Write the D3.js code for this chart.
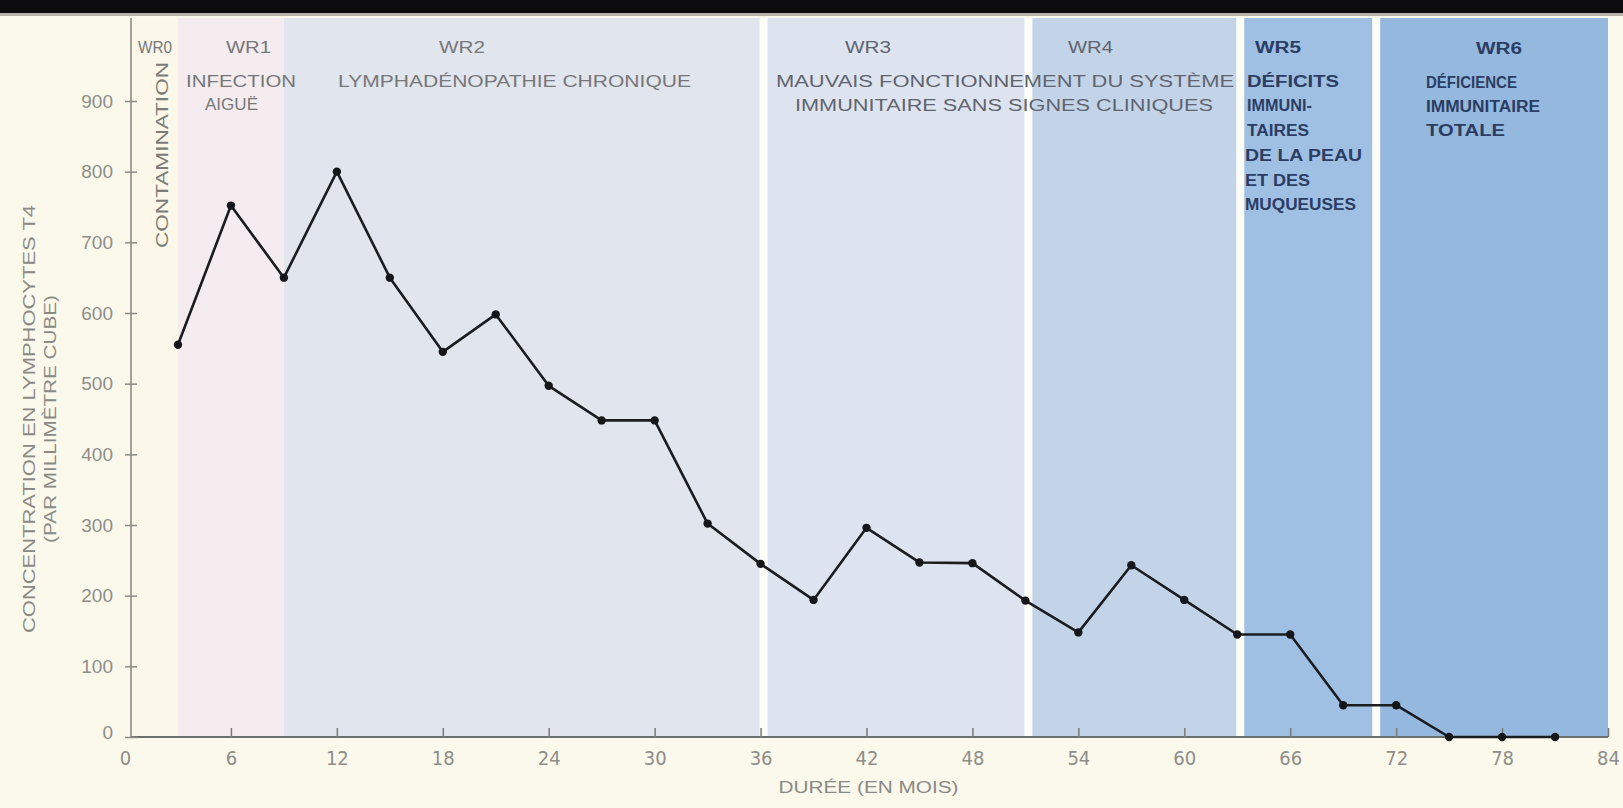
<!DOCTYPE html>
<html lang="fr">
<head>
<meta charset="UTF-8">
<title>Lymphocytes T4</title>
<script src="https://cdn.jsdelivr.net/npm/d3@7"></script>
<style>
  body { margin: 0; background: #fbf9ec; }
  svg { display: block; }
  text { font-family: "Liberation Sans", Arial, sans-serif; }
</style>
</head>
<body>
<div id="chart"></div>
<script>
// data
var months = [3, 6, 9, 12, 15, 18, 21, 24, 27, 30, 33, 36, 39, 42, 45, 48, 51, 54, 57, 60, 63, 66, 69, 72, 75, 78, 81]
var t4 = [555, 752, 650, 800, 650, 545, 598, 497, 448, 448, 302, 245, 194, 296, 247, 246, 193, 148, 243, 194, 145, 145, 45, 45, 0, 0, 0]

var stageNames = ["WR0", "WR1", "WR2", "WR3", "WR4", "WR5", "WR6"]
var stageStart = [0, 3, 9, 36, 51, 63, 70.7]
var stageEnd = [3, 9, 36, 51, 63, 70.7, 84]
var stageColors = ["#fbf8ea", "#f4ecee", "#e1e5ed", "#dee4ef", "#c3d4e9", "#9fc0e3", "#95b8de"]
var separators = [36, 51, 63, 70.7]

var xTicks = d3.range(0, 85, 6)
var yTicks = d3.range(0, 901, 100)

var width = 1623
var height = 808

var x = d3.scaleLinear().domain([0, 84]).range([125, 1608])
var y = d3.scaleLinear().domain([0, 900]).range([737, 101])
var plotTop = 18

var svg = d3.select('#chart').append('svg')
    .attr('width', width)
    .attr('height', height)

svg.append('rect').attr('width', width).attr('height', height).attr('fill', '#fbf9ec')

// stage bands
svg.append('g').selectAll('rect')
    .data(stageNames)
    .join('rect')
    .attr('x', (d, i) => x(stageStart[i]) + (i === 0 ? 6 : 0))
    .attr('y', plotTop)
    .attr('width', (d, i) => x(stageEnd[i]) - x(stageStart[i]) - (i === 0 ? 6 : 0))
    .attr('height', y(0) - plotTop)
    .attr('fill', (d, i) => stageColors[i])

svg.append('g').selectAll('rect')
    .data(separators)
    .join('rect')
    .attr('x', d => x(d) - 1)
    .attr('y', plotTop)
    .attr('width', 8)
    .attr('height', y(0) - plotTop)
    .attr('fill', '#fdfdf8')

// black strip at the top of the scan
svg.append('rect').attr('width', width).attr('height', 13).attr('fill', '#0c0c0e')
svg.append('rect').attr('y', 13).attr('width', width).attr('height', 3).attr('fill', '#6b6b6b').attr('opacity', 0.5)

// axes
var xAxis = d3.axisBottom(x).tickValues(xTicks).tickSize(-9).tickPadding(14).tickFormat(d3.format('d'))
var gx = svg.append('g').attr('transform', `translate(0,${y(0)})`).call(xAxis)
gx.select('.domain').attr('stroke', '#6f6f6c').attr('stroke-width', 2).attr('d', `M${x(0) + 6},0H${x(84)}`)
gx.selectAll('.tick line').attr('stroke', '#7a7a76').attr('stroke-width', 1.5)
gx.selectAll('.tick text')
    .attr('fill', '#8e8e88')
    .style('font-family', '"Liberation Sans Narrow", "DejaVu Sans Condensed", "Liberation Sans", sans-serif')
    .style('font-size', '20px')
gx.selectAll('.tick').filter(d => d === 0).select('line').remove()

var yAxis = d3.axisLeft(y).tickValues(yTicks).tickSize(6).tickPadding(12)
var gy = svg.append('g').attr('transform', `translate(${x(0) + 6},0)`).call(yAxis)
gy.select('.domain').attr('stroke', '#858580').attr('stroke-width', 1.5).attr('d', `M0,${y(0)}V${plotTop}`)
gy.selectAll('.tick line').attr('stroke', '#8a8a86').attr('stroke-width', 1.5).attr('x2', 6).attr('x1', -6)
gy.selectAll('.tick text')
    .attr('fill', '#8e8e88')
    .style('font-size', '19px')
gy.selectAll('.tick').filter(d => d === 0).select('text').attr('dy', '0.1em')

// axis titles
svg.append('text')
    .attr('transform', `translate(35,${y(450)}) rotate(-90)`)
    .attr('text-anchor', 'middle')
    .attr('fill', '#8a8a85')
    .style('font-size', '16px')
    .attr('textLength', 428)
    .attr('lengthAdjust', 'spacingAndGlyphs')
    .text('CONCENTRATION EN LYMPHOCYTES T4')
svg.append('text')
    .attr('transform', `translate(56,${y(450)}) rotate(-90)`)
    .attr('text-anchor', 'middle')
    .attr('fill', '#8a8a85')
    .style('font-size', '16px')
    .attr('textLength', 248)
    .attr('lengthAdjust', 'spacingAndGlyphs')
    .text('(PAR MILLIMÈTRE CUBE)')
svg.append('text')
    .attr('x', (x(36) + x(48)) / 2 + 2)
    .attr('y', 793)
    .attr('text-anchor', 'middle')
    .attr('fill', '#8a8a85')
    .style('font-size', '16px')
    .attr('textLength', 180)
    .attr('lengthAdjust', 'spacingAndGlyphs')
    .text('DURÉE (EN MOIS)')
svg.append('text')
    .attr('transform', `translate(168,155) rotate(-90)`)
    .attr('text-anchor', 'middle')
    .attr('fill', '#7b7b78')
    .style('font-size', '16px')
    .attr('textLength', 186)
    .attr('lengthAdjust', 'spacingAndGlyphs')
    .text('CONTAMINATION')

// stage labels: [text, left, baseline, width, colour]
var grey = '#77777a', mid = '#60646e', navy = '#2b3d63'
var stageLabels = [
    ['WR0', 138, 53, 34, grey],
    ['WR1', 226, 53, 45, grey],
    ['WR2', 439, 53, 46, grey],
    ['WR3', 845, 53, 46, mid],
    ['WR4', 1068, 53, 45, mid],
    ['WR5', 1255, 53, 46, navy],
    ['WR6', 1476, 54, 46, navy],
    ['INFECTION', 186, 87, 110, grey],
    ['AIGUË', 205, 110, 53, grey],
    ['LYMPHADÉNOPATHIE CHRONIQUE', 338, 87, 353, grey],
    ['MAUVAIS FONCTIONNEMENT DU SYSTÈME', 776, 87, 458, mid],
    ['IMMUNITAIRE SANS SIGNES CLINIQUES', 795, 111, 418, mid],
    ['DÉFICITS', 1247, 87, 92, navy],
    ['IMMUNI-', 1247, 111, 65, navy],
    ['TAIRES', 1247, 136, 62, navy],
    ['DE LA PEAU', 1245, 161, 117, navy],
    ['ET DES', 1245, 186, 65, navy],
    ['MUQUEUSES', 1245, 210, 111, navy],
    ['DÉFICIENCE', 1426, 88, 91, navy],
    ['IMMUNITAIRE', 1426, 112, 114, navy],
    ['TOTALE', 1426, 136, 79, navy]
]
svg.append('g').selectAll('text')
    .data(stageLabels)
    .join('text')
    .attr('x', d => d[1])
    .attr('y', d => d[2])
    .attr('fill', d => d[4])
    .style('font-size', '16px')
    .style('font-weight', d => d[4] === navy ? 'bold' : 'normal')
    .attr('textLength', d => d[3])
    .attr('lengthAdjust', 'spacingAndGlyphs')
    .text(d => d[0])

// the curve
var pts = months.map((m, i) => [m, t4[i]])
svg.append('path')
    .datum(pts)
    .attr('fill', 'none')
    .attr('stroke', '#1b1c20')
    .attr('stroke-width', 2.6)
    .attr('stroke-linejoin', 'round')
    .attr('d', d3.line().x(d => x(d[0])).y(d => y(d[1])))

svg.append('g').selectAll('circle')
    .data(pts)
    .join('circle')
    .attr('cx', d => x(d[0]))
    .attr('cy', d => y(d[1]))
    .attr('r', 4.2)
    .attr('fill', '#15161a')
</script>
</body>
</html>
